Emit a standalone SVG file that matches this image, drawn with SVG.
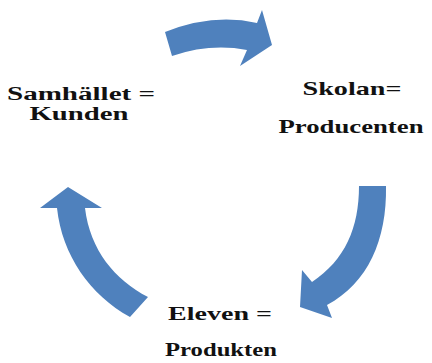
<svg xmlns="http://www.w3.org/2000/svg" width="432" height="363" viewBox="0 0 432 363">
<style>
.arrow{fill:#4F81BD;stroke:none}
.lbl{font-family:'Liberation Serif','DejaVu Serif',serif;font-weight:bold;font-size:19px;fill:#111;text-anchor:middle}
.sm{font-size:18px}
</style>
<rect width="432" height="363" fill="#fff"/>
<g id="connectors">
<path class="arrow" d="M165,32 Q213,13 257,23 L262,10 L272,45 L240,66 L247,50 Q210,43 172,56 Z"/>
<path class="arrow" d="M359,186 L386,186 C387,240 368,283 327,305 L332,318 L300,307 L302,270 L312,282 C345,260 359,228 359,186 Z"/>
<path class="arrow" d="M68,187 L102,208 L85,208 C90,250 115,280 148,297 L130,317 C90,295 62,255 57,208 L40,208 Z"/>
</g>
<g id="samhallet">
<text class="lbl sm" x="81" y="100" textLength="148" lengthAdjust="spacingAndGlyphs">Samhället =</text>
<text class="lbl sm" x="79" y="120" textLength="99" lengthAdjust="spacingAndGlyphs">Kunden</text>
</g>
<g id="skolan">
<text class="lbl" x="352" y="95" textLength="99" lengthAdjust="spacingAndGlyphs">Skolan=</text>
<text class="lbl" x="351" y="133" textLength="145" lengthAdjust="spacingAndGlyphs">Producenten</text>
</g>
<g id="eleven">
<text class="lbl" x="220" y="320" textLength="104" lengthAdjust="spacingAndGlyphs">Eleven =</text>
<text class="lbl" x="221" y="356" textLength="112" lengthAdjust="spacingAndGlyphs">Produkten</text>
</g>
</svg>
